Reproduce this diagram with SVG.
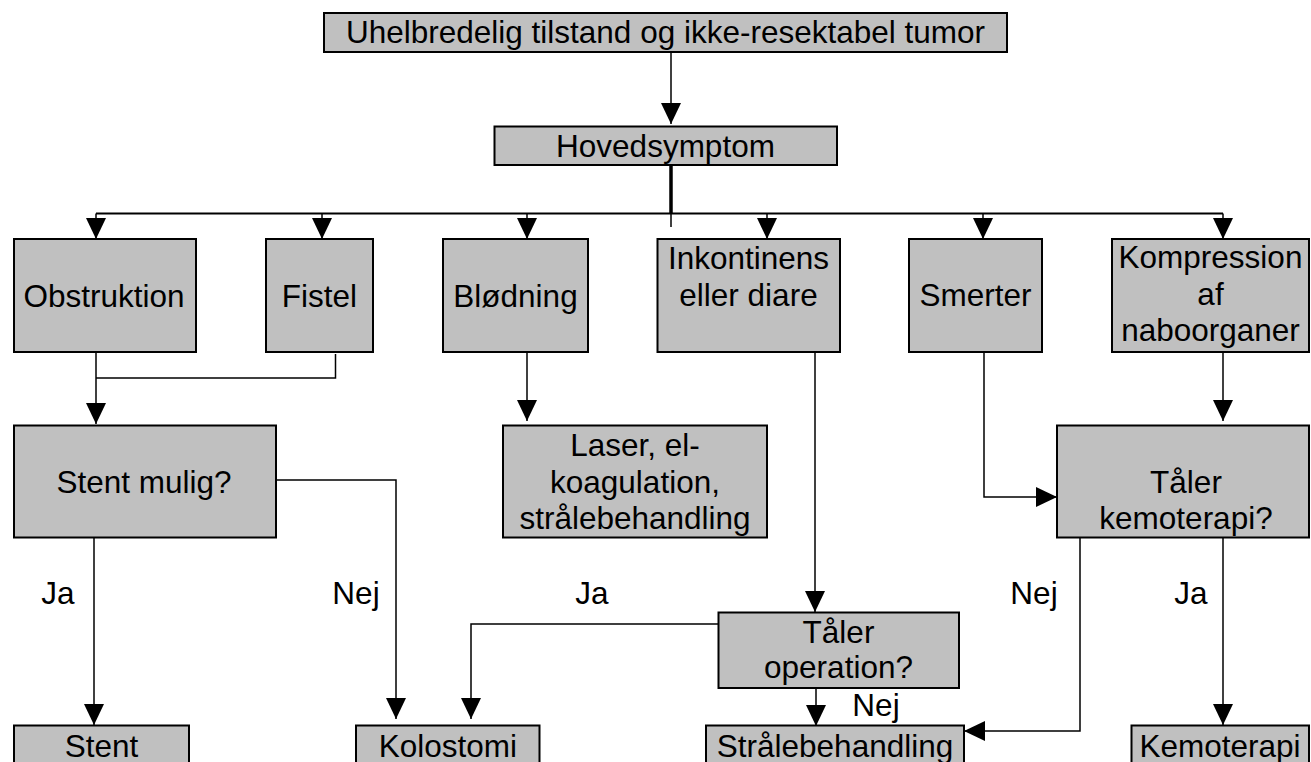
<svg xmlns="http://www.w3.org/2000/svg" width="1311" height="762" viewBox="0 0 1311 762">
<defs>
<marker id="ah" viewBox="0 0 21 20" markerWidth="21" markerHeight="20" markerUnits="userSpaceOnUse" refX="21" refY="10" orient="auto">
<path d="M0,0 L21,10 L0,20 z" fill="#000"/>
</marker>
<style>
.box{fill:#c0c0c0;stroke:#000;stroke-width:2}
.t{font-family:"Liberation Sans",Arial,sans-serif;font-size:31.5px;fill:#000;text-anchor:middle}
.c{fill:none;stroke:#000;stroke-width:1.5}
.ca{fill:none;stroke:#000;stroke-width:1.5;marker-end:url(#ah)}
</style>
</defs>
<rect width="1311" height="762" fill="#fff"/>

<g id="connectors">
<path class="ca" d="M671,52 V124"/>
<path d="M671,159 V213" stroke="#000" stroke-width="3.5" fill="none"/>
<path class="c" d="M671,213 V227"/>
<path d="M96,213.5 H1223" stroke="#000" stroke-width="2" fill="none"/>
<path class="ca" d="M96,213.5 V239"/>
<path class="ca" d="M322,213.5 V239"/>
<path class="ca" d="M527,213.5 V239"/>
<path class="ca" d="M767,213.5 V239"/>
<path class="ca" d="M983,213.5 V239"/>
<path class="ca" d="M1223,213.5 V239"/>
<path class="ca" d="M96,352 V424"/>
<path class="c" d="M96,378 H335.5 V354"/>
<path class="ca" d="M527,352 V421"/>
<path class="ca" d="M276,480 H396 V719"/>
<path class="ca" d="M94,538 V725"/>
<path class="ca" d="M815,352 V612"/>
<path class="ca" d="M719,624 H471 V719"/>
<path class="ca" d="M816,683 V726"/>
<path class="ca" d="M984,352 V497 H1057"/>
<path class="ca" d="M1223,352 V421"/>
<path class="ca" d="M1080,535 V731 H964"/>
<path class="ca" d="M1223,535 V725"/>
</g>

<g id="n-top">
<rect class="box" x="324" y="13" width="683" height="39"/>
<text class="t" x="665.5" y="43">Uhelbredelig tilstand og ikke-resektabel tumor</text>
</g>
<g id="n-hoved">
<rect class="box" x="494.5" y="126.5" width="342.5" height="38.5"/>
<text class="t" x="665.5" y="157">Hovedsymptom</text>
</g>
<g id="n-obstruktion">
<rect class="box" x="14" y="239" width="182" height="113"/>
<text class="t" x="104" y="307">Obstruktion</text>
</g>
<g id="n-fistel">
<rect class="box" x="266" y="239" width="107" height="113"/>
<text class="t" x="319.5" y="307">Fistel</text>
</g>
<g id="n-blodning">
<rect class="box" x="443" y="239" width="145" height="113"/>
<text class="t" x="515.5" y="307">Blødning</text>
</g>
<g id="n-inkontinens">
<rect class="box" x="657.5" y="239" width="182.5" height="113"/>
<text class="t" x="748.5" y="269">Inkontinens</text>
<text class="t" x="748.5" y="306">eller diare</text>
</g>
<g id="n-smerter">
<rect class="box" x="909" y="239" width="133" height="113"/>
<text class="t" x="975.5" y="306">Smerter</text>
</g>
<g id="n-kompression">
<rect class="box" x="1112" y="239" width="197" height="113"/>
<text class="t" x="1210.5" y="268">Kompression</text>
<text class="t" x="1210.5" y="305">af</text>
<text class="t" x="1210.5" y="341">naboorganer</text>
</g>
<g id="n-stentmulig">
<rect class="box" x="14" y="425.5" width="262" height="112"/>
<text class="t" x="144" y="493">Stent mulig?</text>
</g>
<g id="n-laser">
<rect class="box" x="503" y="425.5" width="264" height="112"/>
<text class="t" x="635" y="456">Laser, el-</text>
<text class="t" x="635" y="493">koagulation,</text>
<text class="t" x="635" y="529">strålebehandling</text>
</g>
<g id="n-kemo-q">
<rect class="box" x="1057" y="425.5" width="252" height="112"/>
<text class="t" x="1186" y="493">Tåler</text>
<text class="t" x="1186" y="529">kemoterapi?</text>
</g>
<g id="n-op-q">
<rect class="box" x="718.5" y="612.5" width="240.5" height="75.5"/>
<text class="t" x="838.5" y="643">Tåler</text>
<text class="t" x="838.5" y="678">operation?</text>
</g>
<g id="n-stent">
<rect class="box" x="14" y="725.5" width="175" height="50"/>
<text class="t" x="101.5" y="757">Stent</text>
</g>
<g id="n-kolostomi">
<rect class="box" x="356" y="725.5" width="183.5" height="50"/>
<text class="t" x="447.8" y="757">Kolostomi</text>
</g>
<g id="n-straale">
<rect class="box" x="706" y="725.5" width="258" height="50"/>
<text class="t" x="835" y="757">Strålebehandling</text>
</g>
<g id="n-kemo">
<rect class="box" x="1131.5" y="725.5" width="177.5" height="50"/>
<text class="t" x="1220" y="757">Kemoterapi</text>
</g>

<g id="labels">
<text class="t" x="58" y="604">Ja</text>
<text class="t" x="356" y="604">Nej</text>
<text class="t" x="592" y="604">Ja</text>
<text class="t" x="1034" y="604">Nej</text>
<text class="t" x="1191" y="604">Ja</text>
<text class="t" x="876" y="716">Nej</text>
</g>
</svg>
